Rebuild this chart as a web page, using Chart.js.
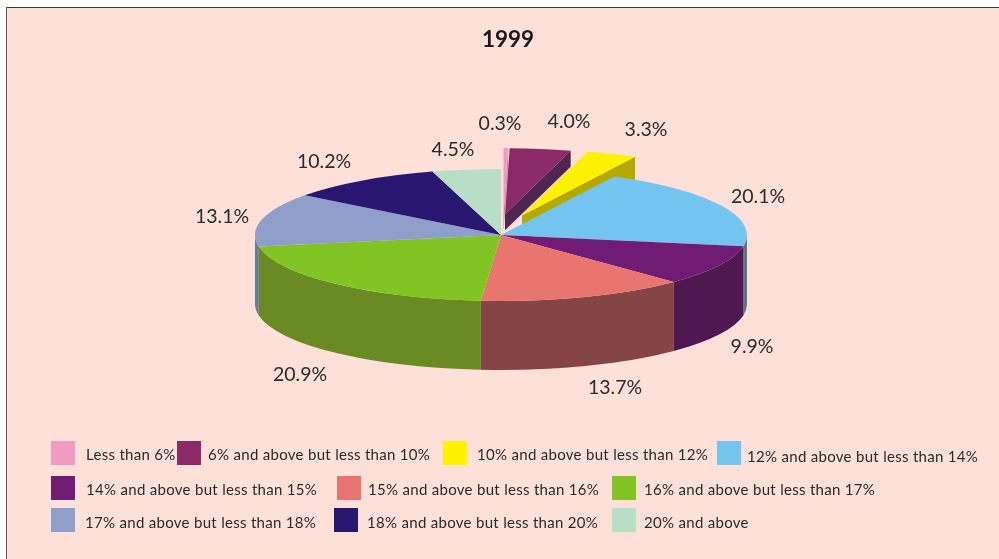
<!DOCTYPE html>
<html><head><meta charset="utf-8">
<style>html,body{margin:0;padding:0;background:#fff}#w{width:999px;height:559px;position:relative}canvas{display:block}</style>
<script src="https://cdn.jsdelivr.net/npm/chart.js@4"></script>
</head><body><div id="w"><canvas id="c" width="999" height="559"></canvas></div>
<script>
const categories = ['Less than 6%','6% and above but less than 10%','10% and above but less than 12%','12% and above but less than 14%','14% and above but less than 15%','15% and above but less than 16%','16% and above but less than 17%','17% and above but less than 18%','18% and above but less than 20%','20% and above'];
const shares = [0.3,4.0,3.3,20.1,9.9,13.7,20.9,13.1,10.2,4.5];
const topColours = ['#F29BC1','#8A2A66','#FFF200','#73C5F0','#701C75','#E87570','#82C423','#8E9FCB','#281670','#B8DEC8'];
const sideColours = ['#C98AA5','#50264F','#B5A900','#587A82','#4E1850','#864545','#6A8A24','#6A7BA0','#1E1055','#8AA696'];
const titleText = '1999';

// presentation constants
const PIE = {cx:501, cy:235, r:246, squash:66/246, depth:69};
const pull = {x:[2.5,4,21,0,0,0,0,0,0,0], y:[-78,-77,-73,0,0,0,0,0,0,0], depth:[18,16,26,0,0,0,0,0,0,0]};
const labelAt = [[500,124],[569,122],[646,130],[758,197],[752,347],[615,388],[300,375],[222,217],[324,162],[453,150]];
const legendAt = [[51,441,86,455],[177,441,208,455],[443,441,477,455],[717,441,747,457],[51,476,86,490],[337,476,368,490],[612,476,644,490],[51,508,85,523],[334,508,367,523],[612,508,644,523]];

const pie3d = {
  id:'pie3d',
  beforeDraw(chart){
    const c=chart.ctx;
    c.save();
    c.fillStyle='#fff';c.fillRect(0,0,999,559);
    c.fillStyle='#FDE0D8';c.fillRect(6,8,993,551);
    c.fillStyle='#3a3a3a';c.fillRect(6,7,993,1);
    c.fillStyle='#6b5a55';c.fillRect(6,7,1,552);
    c.restore();
  },
  afterDatasetsUpdate(chart){
    const arcs=chart.getDatasetMeta(0).data, a=chart.chartArea;
    chart.$cx=(a.left+a.right)/2; chart.$cy=(a.top+a.bottom)/2;
    arcs.forEach((arc,i)=>{arc.x=chart.$cx+pull.x[i];arc.y=chart.$cy+pull.y[i];});
  },
  beforeDatasetsDraw(chart){
    const c=chart.ctx, arcs=chart.getDatasetMeta(0).data, k=PIE.squash, R=PIE.r;
    c.save();
    arcs.forEach((arc,i)=>{
      if(!pull.depth[i]) return;
      const ax=PIE.cx+pull.x[i], ay=PIE.cy+pull.y[i]*k, e=arc.endAngle, d=pull.depth[i];
      const ox=ax+R*Math.cos(e), oy=ay+R*k*Math.sin(e);
      c.fillStyle=sideColours[i];
      c.beginPath();c.moveTo(ax,ay);c.lineTo(ox,oy);c.lineTo(ox,oy+d);c.lineTo(ax,ay+d);c.closePath();c.fill();
    });
    arcs.forEach((arc,i)=>{
      if(pull.depth[i]) return;
      const lo=Math.max(arc.startAngle,0), hi=Math.min(arc.endAngle,Math.PI);
      if(hi<=lo) return;
      c.fillStyle=sideColours[i];
      c.beginPath();
      c.ellipse(PIE.cx,PIE.cy,R,R*k,0,lo,hi);
      c.ellipse(PIE.cx,PIE.cy+PIE.depth,R,R*k,0,hi,lo,true);
      c.closePath();c.fill();
    });
    c.restore();
    c.save();
    c.translate(PIE.cx,PIE.cy);c.scale(1,k);c.translate(-chart.$cx,-chart.$cy);
  },
  afterDatasetsDraw(chart){
    const c=chart.ctx;
    c.restore();
    c.save();
    c.fillStyle='#2b2b2b';c.textAlign='center';c.textBaseline='middle';
    c.font='19.5px Lato';
    shares.forEach((v,i)=>c.fillText(v.toFixed(1)+'%',labelAt[i][0],labelAt[i][1]));
    c.font='15px Lato';c.textAlign='left';c.letterSpacing='0.3px';
    categories.forEach((t,i)=>{
      const p=legendAt[i];
      c.fillStyle=topColours[i];c.fillRect(p[0],p[1],24,24);
      c.fillStyle='#2b2b2b';c.fillText(t,p[2],p[3]);
    });
    c.restore();
  }
};

new Chart(document.getElementById('c'),{
  type:'pie',
  data:{labels:categories,datasets:[{data:shares,backgroundColor:topColours,borderWidth:0,clip:false}]},
  plugins:[pie3d],
  options:{
    responsive:false,animation:false,events:[],radius:PIE.r,
    layout:{padding:{left:17,right:0,top:0,bottom:0}},
    plugins:{
      legend:{display:false},tooltip:{enabled:false},
      title:{display:true,text:titleText,color:'#1a1a1a',font:{family:'Lato',size:22.5,weight:'bold'},padding:{top:26,bottom:0}}
    }
  }
});
</script></body></html>
